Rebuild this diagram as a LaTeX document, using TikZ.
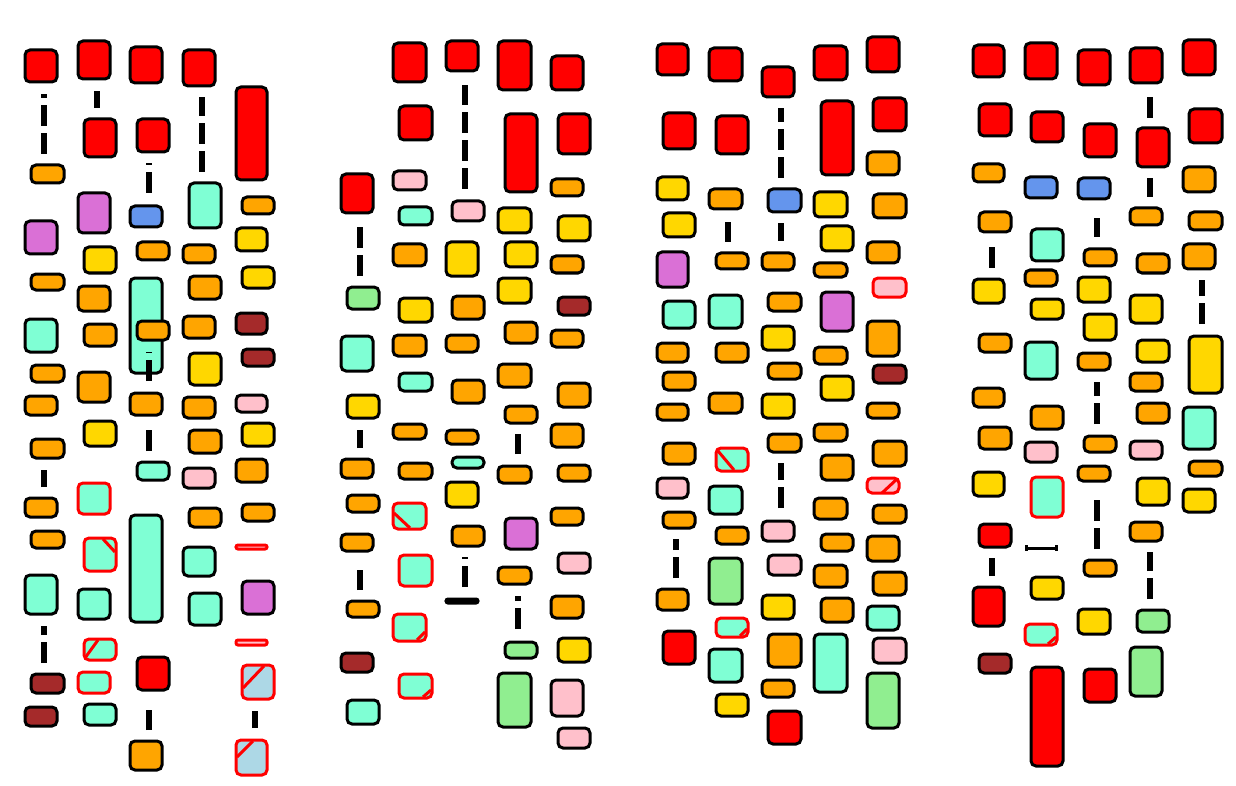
\documentclass[tikz,border=0pt]{standalone}
\definecolor{kR}{HTML}{FF0000}
\definecolor{kO}{HTML}{FFA500}
\definecolor{kG}{HTML}{FFD700}
\definecolor{kA}{HTML}{7FFFD4}
\definecolor{kP}{HTML}{DA70D6}
\definecolor{kB}{HTML}{6495ED}
\definecolor{kW}{HTML}{A52A2A}
\definecolor{kK}{HTML}{FFC0CB}
\definecolor{kL}{HTML}{90EE90}
\definecolor{kC}{HTML}{ADD8E6}
\tikzset{
  bx/.style={draw=black,line width=1.5pt,rounded corners=2.5pt},
  rb/.style={draw=red},
  flat/.style={rounded corners=1pt},
  dl/.style={line width=3.3pt,dash pattern=on 10.5pt off 3.5pt},
  dg/.style={draw=red,line width=1.5pt}
}
\newcommand\bx[5]{\path[bx,fill=#5] (#1,#2) rectangle (#3,#4);}
\newcommand\rbx[5]{\path[bx,rb,fill=#5] (#1,#2) rectangle (#3,#4);}
\newcommand\dl[3]{\draw[dl] (#1,#3) -- (#1,#2);}
\newcommand\dg[4]{\draw[dg] (#1,#2) -- (#3,#4);}
\begin{document}
\begin{tikzpicture}[x=0.5pt,y=-0.5pt]
\useasboundingbox[fill=white] (0,0) rectangle (1236,786);
% ---------------- Group 1
\bx{25}{50}{57}{82}{kR}
\dl{44}{94}{154}
\bx{31}{165}{64}{183}{kO}
\bx{25}{221}{57}{254}{kP}
\bx{31}{274}{64}{290}{kO}
\bx{25}{319}{57}{352}{kA}
\bx{31}{365}{64}{382}{kO}
\bx{25}{396}{57}{415}{kO}
\bx{31}{439}{64}{458}{kO}
\dl{44}{470}{487}
\bx{25}{498}{57}{517}{kO}
\bx{31}{531}{64}{548}{kO}
\bx{25}{575}{57}{614}{kA}
\dl{44}{626}{663}
\bx{31}{674}{64}{693}{kW}
\bx{25}{707}{57}{726}{kW}
%
\bx{78}{41}{110}{79}{kR}
\dl{97}{91}{108}
\bx{84}{119}{116}{157}{kR}
\bx{78}{193}{110}{233}{kP}
\bx{84}{247}{116}{273}{kG}
\bx{78}{286}{110}{311}{kO}
\bx{84}{324}{116}{346}{kO}
\bx{78}{372}{110}{402}{kO}
\bx{84}{421}{116}{446}{kG}
\rbx{78}{483}{110}{514}{kA}
\rbx{84}{538}{116}{571}{kA}
\dg{103}{539}{115}{552}
\bx{78}{589}{110}{619}{kA}
\rbx{84}{639}{116}{660}{kA}
\dg{85}{658}{98}{640}
\rbx{78}{672}{110}{693}{kA}
\bx{84}{704}{116}{725}{kA}
%
\bx{130}{47}{162}{83}{kR}
\bx{137}{119}{169}{152}{kR}
\dl{149}{163}{193}
\bx{130}{206}{162}{227}{kB}
\bx{137}{242}{169}{260}{kO}
\bx{130}{278}{162}{373}{kA}
\bx{137}{321}{169}{340}{kO}
\dl{149}{352}{381}
\bx{130}{393}{162}{415}{kO}
\dl{149}{430}{451}
\bx{137}{462}{169}{480}{kA}
\bx{130}{515}{162}{622}{kA}
\bx{137}{657}{169}{690}{kR}
\dl{149}{710}{730}
\bx{130}{741}{162}{770}{kO}
%
\bx{183}{50}{215}{86}{kR}
\dl{202}{97}{172}
\bx{189}{183}{221}{228}{kA}
\bx{183}{245}{215}{263}{kO}
\bx{189}{276}{221}{299}{kO}
\bx{183}{316}{215}{338}{kO}
\bx{189}{353}{221}{385}{kG}
\bx{183}{397}{215}{418}{kO}
\bx{189}{430}{221}{453}{kO}
\bx{183}{468}{215}{488}{kK}
\bx{189}{508}{221}{527}{kO}
\bx{183}{547}{215}{576}{kA}
\bx{189}{593}{221}{625}{kA}
%
\bx{236}{87}{267}{180}{kR}
\bx{242}{197}{274}{214}{kO}
\bx{236}{228}{267}{251}{kG}
\bx{242}{267}{274}{288}{kG}
\bx{236}{313}{267}{334}{kW}
\bx{242}{349}{274}{366}{kW}
\bx{236}{395}{267}{412}{kK}
\bx{242}{423}{274}{446}{kG}
\bx{236}{459}{267}{482}{kO}
\bx{242}{504}{274}{521}{kO}
\path[bx,rb,flat,fill=kK] (236,545) rectangle (267,549);
\bx{242}{581}{274}{614}{kP}
\path[bx,rb,flat,fill=kK] (236,640) rectangle (267,645);
\rbx{242}{665}{274}{699}{kC}
\dg{243}{688}{264}{666}
\dl{255}{711}{728}
\rbx{236}{740}{267}{775}{kC}
\dg{237}{757}{253}{741}
% ---------------- Group 2
\bx{341}{174}{373}{213}{kR}
\dl{360}{227}{276}
\bx{347}{287}{379}{309}{kL}
\bx{341}{336}{373}{371}{kA}
\bx{347}{395}{379}{418}{kG}
\dl{360}{430}{448}
\bx{341}{459}{373}{478}{kO}
\bx{347}{495}{379}{512}{kO}
\bx{341}{534}{373}{551}{kO}
\dl{360}{570}{590}
\bx{347}{601}{379}{617}{kO}
\bx{341}{653}{373}{672}{kW}
\bx{347}{700}{379}{724}{kA}
%
\bx{393}{43}{426}{82}{kR}
\bx{399}{106}{432}{140}{kR}
\bx{393}{171}{426}{190}{kK}
\bx{399}{207}{432}{225}{kA}
\bx{393}{244}{426}{266}{kO}
\bx{399}{298}{432}{322}{kG}
\bx{393}{335}{426}{356}{kO}
\bx{399}{373}{432}{391}{kA}
\bx{393}{424}{426}{439}{kO}
\bx{399}{463}{432}{479}{kO}
\rbx{393}{503}{426}{529}{kA}
\dg{394}{513}{410}{528}
\rbx{399}{555}{432}{586}{kA}
\rbx{393}{614}{426}{641}{kA}
\dg{417}{640}{425}{632}
\rbx{399}{674}{432}{698}{kA}
\dg{423}{697}{431}{690}
%
\bx{446}{41}{478}{71}{kR}
\dl{465}{85}{189}
\bx{452}{201}{484}{221}{kK}
\bx{446}{242}{478}{276}{kG}
\bx{452}{296}{484}{319}{kO}
\bx{446}{335}{478}{352}{kO}
\bx{452}{380}{484}{403}{kO}
\bx{446}{430}{478}{444}{kO}
\bx{452}{457}{484}{468}{kA}
\bx{446}{482}{478}{507}{kG}
\bx{452}{526}{484}{546}{kO}
\dl{465}{557}{587}
\path[bx,flat,fill=black] (446,599) rectangle (478,603);
%
\bx{498}{41}{531}{90}{kR}
\bx{505}{114}{537}{192}{kR}
\bx{498}{208}{531}{233}{kG}
\bx{505}{242}{537}{267}{kG}
\bx{498}{278}{531}{303}{kG}
\bx{505}{322}{537}{343}{kO}
\bx{498}{364}{531}{387}{kO}
\bx{505}{406}{537}{423}{kO}
\dl{518}{434}{454}
\bx{498}{466}{531}{483}{kO}
\bx{505}{518}{537}{549}{kP}
\bx{498}{567}{531}{584}{kO}
\dl{518}{596}{629}
\bx{505}{642}{537}{658}{kL}
\bx{498}{673}{531}{727}{kL}
%
\bx{551}{56}{583}{90}{kR}
\bx{558}{114}{590}{154}{kR}
\bx{551}{179}{583}{196}{kO}
\bx{558}{216}{590}{241}{kG}
\bx{551}{256}{583}{273}{kO}
\bx{558}{297}{590}{315}{kW}
\bx{551}{330}{583}{347}{kO}
\bx{558}{383}{590}{407}{kO}
\bx{551}{424}{583}{447}{kO}
\bx{558}{465}{590}{481}{kO}
\bx{551}{508}{583}{525}{kO}
\bx{558}{553}{590}{573}{kK}
\bx{551}{596}{583}{618}{kO}
\bx{558}{638}{590}{662}{kG}
\bx{551}{680}{583}{716}{kK}
\bx{558}{728}{590}{748}{kK}
% ---------------- Group 3
\bx{657}{44}{688}{75}{kR}
\bx{663}{113}{695}{149}{kR}
\bx{657}{177}{688}{200}{kG}
\bx{663}{213}{695}{237}{kG}
\bx{657}{252}{688}{287}{kP}
\bx{663}{301}{695}{328}{kA}
\bx{657}{343}{688}{362}{kO}
\bx{663}{372}{695}{390}{kO}
\bx{657}{404}{688}{420}{kO}
\bx{663}{443}{695}{464}{kO}
\bx{657}{478}{688}{498}{kK}
\bx{663}{512}{695}{528}{kO}
\dl{676}{539}{578}
\bx{657}{589}{688}{610}{kO}
\bx{663}{631}{695}{664}{kR}
%
\bx{709}{48}{742}{81}{kR}
\bx{716}{116}{748}{154}{kR}
\bx{709}{189}{742}{209}{kO}
\dl{728}{222}{242}
\bx{716}{253}{748}{269}{kO}
\bx{709}{295}{742}{328}{kA}
\bx{716}{343}{748}{362}{kO}
\bx{709}{393}{742}{413}{kO}
\rbx{716}{448}{748}{471}{kA}
\dg{718}{451}{734}{470}
\bx{709}{486}{742}{514}{kA}
\bx{716}{527}{748}{544}{kO}
\bx{709}{558}{742}{604}{kL}
\rbx{716}{618}{748}{637}{kA}
\dg{740}{636}{747}{629}
\bx{709}{649}{742}{682}{kA}
\bx{716}{694}{748}{716}{kG}
%
\bx{762}{67}{794}{97}{kR}
\dl{781}{108}{178}
\bx{768}{189}{801}{212}{kB}
\dl{781}{223}{241}
\bx{762}{253}{794}{270}{kO}
\bx{768}{293}{801}{311}{kO}
\bx{762}{326}{794}{350}{kG}
\bx{768}{363}{801}{379}{kO}
\bx{762}{394}{794}{418}{kG}
\bx{768}{434}{801}{452}{kO}
\dl{781}{463}{508}
\bx{762}{521}{794}{541}{kK}
\bx{768}{555}{801}{575}{kK}
\bx{762}{595}{794}{619}{kG}
\bx{768}{634}{801}{667}{kO}
\bx{762}{680}{794}{697}{kO}
\bx{768}{711}{801}{744}{kR}
%
\bx{814}{46}{847}{80}{kR}
\bx{821}{101}{853}{175}{kR}
\bx{814}{192}{847}{217}{kG}
\bx{821}{226}{853}{251}{kG}
\bx{814}{263}{847}{277}{kO}
\bx{821}{292}{853}{331}{kP}
\bx{814}{347}{847}{364}{kO}
\bx{821}{376}{853}{400}{kG}
\bx{814}{424}{847}{441}{kO}
\bx{821}{455}{853}{480}{kO}
\bx{814}{498}{847}{519}{kO}
\bx{821}{534}{853}{551}{kO}
\bx{814}{565}{847}{587}{kO}
\bx{821}{598}{853}{622}{kO}
\bx{814}{634}{847}{692}{kA}
%
\bx{867}{37}{899}{72}{kR}
\bx{873}{98}{906}{131}{kR}
\bx{867}{152}{899}{175}{kO}
\bx{873}{194}{906}{218}{kO}
\bx{867}{242}{899}{263}{kO}
\rbx{873}{278}{906}{297}{kK}
\bx{867}{321}{899}{356}{kO}
\bx{873}{365}{906}{383}{kW}
\bx{867}{403}{899}{418}{kO}
\bx{873}{441}{906}{466}{kO}
\rbx{867}{478}{899}{493}{kK}
\dg{882}{493}{897}{479}
\bx{873}{505}{906}{523}{kO}
\bx{867}{536}{899}{561}{kO}
\bx{873}{572}{906}{595}{kO}
\bx{867}{606}{899}{630}{kA}
\bx{873}{638}{906}{663}{kK}
\bx{867}{673}{899}{728}{kL}
% ---------------- Group 4
\bx{973}{45}{1004}{77}{kR}
\bx{979}{104}{1011}{136}{kR}
\bx{973}{164}{1004}{182}{kO}
\bx{979}{212}{1011}{232}{kO}
\dl{992}{247}{268}
\bx{973}{279}{1004}{303}{kG}
\bx{979}{334}{1011}{352}{kO}
\bx{973}{388}{1004}{407}{kO}
\bx{979}{427}{1011}{449}{kO}
\bx{973}{472}{1004}{496}{kG}
\bx{979}{524}{1011}{547}{kR}
\dl{992}{558}{576}
\bx{973}{587}{1004}{626}{kR}
\bx{979}{654}{1011}{673}{kW}
%
\bx{1025}{43}{1057}{79}{kR}
\bx{1031}{112}{1063}{142}{kR}
\bx{1025}{177}{1057}{198}{kB}
\bx{1031}{229}{1063}{261}{kA}
\bx{1025}{270}{1057}{286}{kO}
\bx{1031}{299}{1063}{319}{kG}
\bx{1025}{342}{1057}{379}{kA}
\bx{1031}{406}{1063}{429}{kO}
\bx{1025}{442}{1057}{462}{kK}
\rbx{1031}{477}{1063}{517}{kA}
\draw[line width=1.5pt] (1026,548) -- (1056,548);
\draw[line width=1.5pt] (1026,545) -- (1026,551);
\draw[line width=1.5pt] (1056,545) -- (1056,551);
\bx{1031}{577}{1063}{599}{kG}
\rbx{1025}{624}{1057}{645}{kA}
\dg{1048}{644}{1056}{637}
\bx{1031}{667}{1063}{766}{kR}
%
\bx{1078}{50}{1110}{85}{kR}
\bx{1084}{124}{1116}{157}{kR}
\bx{1078}{178}{1110}{199}{kB}
\dl{1097}{218}{237}
\bx{1084}{249}{1116}{266}{kO}
\bx{1078}{277}{1110}{302}{kG}
\bx{1084}{314}{1116}{340}{kG}
\bx{1078}{353}{1110}{370}{kO}
\dl{1097}{382}{424}
\bx{1084}{436}{1116}{452}{kO}
\bx{1078}{466}{1110}{481}{kO}
\dl{1097}{500}{549}
\bx{1084}{560}{1116}{576}{kO}
\bx{1078}{609}{1110}{634}{kG}
\bx{1084}{669}{1116}{702}{kR}
%
\bx{1130}{48}{1162}{83}{kR}
\dl{1150}{97}{118}
\bx{1137}{128}{1169}{167}{kR}
\dl{1150}{178}{197}
\bx{1130}{208}{1162}{225}{kO}
\bx{1137}{254}{1169}{273}{kO}
\bx{1130}{295}{1162}{323}{kG}
\bx{1137}{340}{1169}{362}{kG}
\bx{1130}{373}{1162}{391}{kO}
\bx{1137}{403}{1169}{423}{kO}
\bx{1130}{441}{1162}{459}{kK}
\bx{1137}{478}{1169}{505}{kG}
\bx{1130}{522}{1162}{541}{kO}
\dl{1150}{552}{599}
\bx{1137}{610}{1169}{632}{kL}
\bx{1130}{647}{1162}{696}{kL}
%
\bx{1183}{40}{1215}{75}{kR}
\bx{1189}{109}{1222}{143}{kR}
\bx{1183}{167}{1215}{192}{kO}
\bx{1189}{212}{1222}{230}{kO}
\bx{1183}{244}{1215}{269}{kO}
\dl{1202}{280}{324}
\bx{1189}{336}{1222}{393}{kG}
\bx{1183}{407}{1215}{449}{kA}
\bx{1189}{461}{1222}{476}{kO}
\bx{1183}{489}{1215}{512}{kG}
\end{tikzpicture}
\end{document}
